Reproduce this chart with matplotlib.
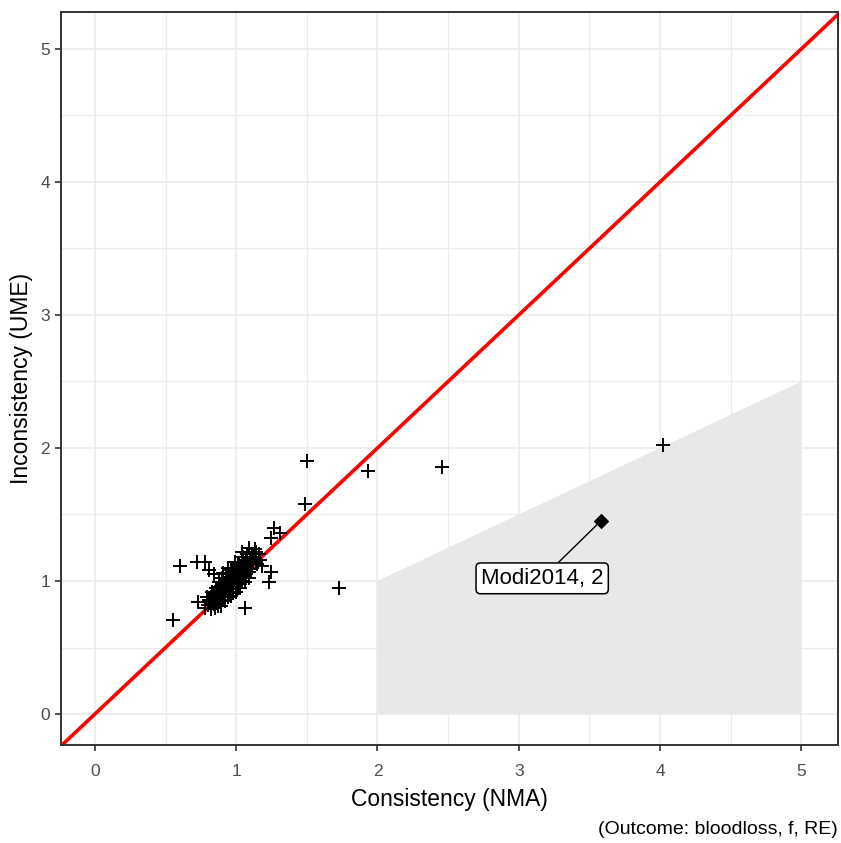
import matplotlib
matplotlib.use("Agg")
import matplotlib.pyplot as plt
from matplotlib.ticker import MultipleLocator

plt.rcParams['font.family'] = ['Liberation Sans', 'DejaVu Sans']

# Cluster of study points (consistency NMA vs inconsistency UME)
cluster_x = [0.80, 0.82, 0.84, 0.85, 0.86, 0.87, 0.88, 0.89, 0.90, 0.91, 0.92, 0.93, 0.94, 0.95,
             0.95, 0.96, 0.97, 0.98, 0.98, 0.99, 1.00, 1.00, 1.01, 1.02, 1.02, 1.03, 1.04, 1.04,
             1.05, 1.06, 1.07, 1.08, 1.09, 1.10, 1.11, 1.12, 1.13, 1.14, 1.15, 0.83, 0.86, 0.88,
             0.90, 0.93, 0.96, 0.99, 0.92, 0.96, 1.00, 1.03, 1.06, 1.09, 0.97, 1.01, 1.05, 0.78,
             0.82, 0.87,
             0.82, 0.84, 0.86, 0.88, 0.90, 0.91, 0.93, 0.94, 0.95, 0.97, 0.98, 1.00, 1.01, 1.02,
             1.03, 1.05, 1.06, 1.07, 1.08, 1.10, 1.12, 1.13, 1.16, 0.89, 0.85, 0.94, 0.91, 0.99,
             1.04, 1.09,
             0.81, 0.87, 0.92, 0.97, 1.02, 1.07, 1.11, 0.84, 0.89, 0.95, 1.00, 1.05, 1.10, 0.93,
             0.98, 1.03, 1.08]
cluster_y = [0.82, 0.85, 0.83, 0.88, 0.86, 0.90, 0.84, 0.92, 0.88, 0.95, 0.90, 0.93, 0.97, 0.92,
             1.00, 0.95, 0.98, 1.02, 0.94, 1.00, 0.97, 1.04, 1.01, 0.98, 1.06, 1.03, 1.00, 1.08,
             1.05, 1.10, 1.02, 1.12, 1.07, 1.15, 1.10, 1.20, 1.17, 1.22, 1.13, 0.92, 0.95, 0.99,
             1.02, 1.05, 1.08, 1.10, 0.85, 0.89, 0.92, 0.95, 0.99, 1.02, 1.04, 1.12, 1.14, 0.80,
             0.79, 0.81,
             0.88, 0.91, 0.84, 0.93, 0.97, 0.86, 1.00, 0.88, 1.03, 1.06, 0.91, 1.09, 0.95, 1.13,
             1.07, 1.18, 1.04, 1.15, 1.20, 1.09, 1.14, 1.24, 1.20, 0.81, 0.80, 1.10, 1.06, 1.14,
             1.22, 1.25,
             0.86, 0.93, 0.98, 1.03, 1.09, 1.13, 1.18, 0.87, 0.96, 1.01, 1.06, 1.11, 1.17, 0.96,
             1.07, 1.10, 1.16]

# Scattered points
outer_x = [0.72, 0.78, 0.81, 0.84, 0.73, 0.79, 1.06, 1.23, 1.25, 1.18, 1.17, 1.27, 1.31,
           1.25, 0.60, 0.55, 1.50, 1.49, 1.73, 1.93, 2.46, 4.02]
outer_y = [1.14, 1.14, 1.08, 1.05, 0.84, 0.88, 0.80, 0.99, 1.07, 1.11, 1.16, 1.40, 1.36,
           1.32, 1.11, 0.71, 1.90, 1.58, 0.95, 1.83, 1.86, 2.02]

# Highlighted study
hl_x = [3.58]
hl_y = [1.45]
hl_label = ["Modi2014, 2"]

# Shaded region
shade_x = [2, 5, 5, 2]
shade_y = [1, 2.5, 0, 0]

ticks = [0, 1, 2, 3, 4, 5]

fig = plt.figure(figsize=(8.41, 8.43), dpi=100)
ax = fig.add_axes([61/841, 98/843, 777/841, 733/843])

ax.set_xlim(-0.24, 5.26)
ax.set_ylim(-0.233, 5.278)

ax.xaxis.set_major_locator(MultipleLocator(1))
ax.yaxis.set_major_locator(MultipleLocator(1))
ax.xaxis.set_minor_locator(MultipleLocator(0.5))
ax.yaxis.set_minor_locator(MultipleLocator(0.5))
ax.grid(True, which='major', color='#ebebeb', linewidth=1.2, zorder=0)
ax.grid(True, which='minor', color='#ebebeb', linewidth=0.9, zorder=0)
ax.set_axisbelow(True)
ax.tick_params(axis='both', which='minor', length=0)
ax.tick_params(axis='both', which='major', length=4, width=1.2, color='#333333',
               labelcolor='#4d4d4d', labelsize=12.5, pad=4)
ax.tick_params(axis='x', which='major', pad=9.5)
ax.set_xticks(ticks)
ax.set_yticks(ticks)
ax.set_xticklabels([str(t) for t in ticks])
ax.set_yticklabels([str(t) for t in ticks])

for sp in ax.spines.values():
    sp.set_color('#333333')
    sp.set_linewidth(1.4)

ax.fill(shade_x, shade_y, color='#e8e8e8', linewidth=0, zorder=1)

ax.axline((0, 0), slope=1, color='#ff0000', linewidth=2.6, zorder=2)

ax.scatter(cluster_x, cluster_y, marker='+', s=100, color='black', linewidths=1.4, zorder=3)
ax.scatter(outer_x, outer_y, marker='+', s=100, color='black', linewidths=1.4, zorder=3)
ax.scatter(hl_x, hl_y, marker='D', s=48, color='black', zorder=4)

ax.annotate(hl_label[0], xy=(hl_x[0], hl_y[0]), xytext=(3.166, 1.02),
            textcoords='data', ha='center', va='center', fontsize=16, color='black',
            bbox=dict(boxstyle='round,pad=0.22,rounding_size=0.2', fc='white', ec='black', lw=1.1),
            arrowprops=dict(arrowstyle='-', color='black', lw=1.0, shrinkA=0, shrinkB=4),
            zorder=5)

ax.set_xlabel('Consistency (NMA)', fontsize=16.5, color='black', labelpad=7)
ax.set_ylabel('Inconsistency (UME)', fontsize=16.5, color='black', labelpad=5)

fig.text(838/841, 1 - 830/843, '(Outcome: bloodloss, f, RE)', ha='right', va='center',
         fontsize=14, color='black')

fig.savefig('out.png', dpi=100)
